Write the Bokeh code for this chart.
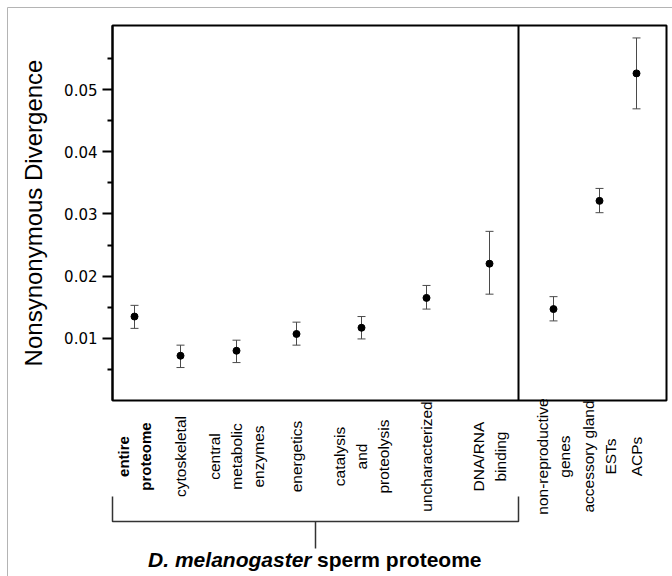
import numpy as np
from bokeh.plotting import figure
from bokeh.models import ColumnDataSource, Whisker, TeeHead, Span, FixedTicker, Range1d
from bokeh.core.properties import value
from bokeh.embed import file_html
from bokeh.resources import INLINE

# ---- data ----
categories = ["entire\nproteome", "cytoskeletal", "central\nmetabolic\nenzymes", "energetics",
              "catalysis\nand\nproteolysis", "uncharacterized", "DNA/RNA\nbinding",
              "non-reproductive\ngenes", "accessory gland\nESTs", "ACPs"]
xpos = [2.2, 6.8, 12.4, 18.4, 24.9, 31.4, 37.7, 44.1, 48.7, 52.4]
divergence = [0.0135, 0.0072, 0.0080, 0.0107, 0.0117, 0.0165, 0.0220, 0.0147, 0.0321, 0.0526]
upper = [0.0153, 0.0089, 0.0097, 0.0126, 0.0135, 0.0185, 0.0272, 0.0167, 0.0341, 0.0583]
lower = [0.0116, 0.0053, 0.0061, 0.0089, 0.0099, 0.0147, 0.0171, 0.0128, 0.0302, 0.0469]
y_ticks = [0.01, 0.02, 0.03, 0.04, 0.05]
y_minor = [0.005, 0.015, 0.025, 0.035, 0.045, 0.055]
y_label = "Nonsynonymous Divergence"
group_title_italic = "D. melanogaster"
group_title_rest = "sperm proteome"
divider = 40.6       # x of the separating line

# ---- figure ----
x_end = 55.4
y_end = 0.0603
FW, FH = 672, 576
ML, MR, MT, MB = 112, 6, 25, 176
p = figure(width=FW, height=FH, x_range=Range1d(0, x_end), y_range=Range1d(0, y_end),
           output_backend="svg", toolbar_location=None,
           min_border_left=ML, min_border_right=MR, min_border_top=MT, min_border_bottom=MB)
p.background_fill_color = "white"
p.border_fill_color = "white"
p.outline_line_color = "black"
p.outline_line_width = 2
p.xgrid.visible = False
p.ygrid.visible = False
p.xaxis.visible = False

ya = p.yaxis[0]
ya.ticker = FixedTicker(ticks=y_ticks, minor_ticks=y_minor)
ya.axis_line_width = 2
ya.major_tick_line_width = 2
ya.minor_tick_line_width = 2
ya.major_tick_out = 10
ya.minor_tick_out = 5
ya.major_tick_in = 0
ya.minor_tick_in = 0
ya.major_label_text_font = "DejaVu Sans"
ya.major_label_text_font_size = "15px"
ya.major_label_text_color = "black"
ya.major_label_standoff = 5
ya.axis_label = y_label
ya.axis_label_text_font = "Liberation Sans"
ya.axis_label_text_font_size = "24px"
ya.axis_label_text_font_style = "normal"
ya.axis_label_text_color = "black"
ya.axis_label_standoff = 14

src = ColumnDataSource(dict(x=xpos, y=divergence, upper=upper, lower=lower))
wcol = "#4a4a4a"
w = Whisker(base="x", upper="upper", lower="lower", source=src, line_color=wcol, line_width=1,
            upper_head=TeeHead(size=8, line_color=wcol, line_width=1),
            lower_head=TeeHead(size=8, line_color=wcol, line_width=1))
p.add_layout(w)
p.scatter("x", "y", source=src, size=7, color="black")

p.add_layout(Span(location=divider, dimension="height", line_color="black", line_width=2))

frame_w = FW - ML - MR
frame_h = FH - MT - MB
px_x = frame_w / x_end
px_y = frame_h / y_end
def ypix(d):  # pixels below frame bottom -> data units
    return -d / px_y

# light gray picture border (left and top edges)
bx = -(ML - 7) / px_x
by = (frame_h + MT - 7) / px_y
p.line(x=[bx, bx, x_end + 20], y=[ypix(400), by, by], line_color="#b4b4b4", line_width=1,
       level="overlay")

lab_y = ypix(56)
p.text(x=xpos[:1], y=[lab_y], text=categories[:1], angle=np.pi / 2,
       text_align="center", text_baseline="middle", text_font=value("Liberation Sans"),
       text_font_size="15px", text_font_style="bold", text_line_height=1.27,
       text_color="black", level="overlay")
p.text(x=xpos[1:], y=[lab_y] * (len(xpos) - 1), text=categories[1:], angle=np.pi / 2,
       text_align="center", text_baseline="middle", text_font=value("Liberation Sans"),
       text_font_size="15.5px", text_line_height=1.27, text_color="black", level="overlay")

b_top = ypix(96)
b_mid = ypix(121)
b_bot = ypix(148)
x_left = 0.0
x_right = divider
x_center = (x_left + x_right) / 2
p.line(x=[x_left, x_left, x_right, x_right], y=[b_top, b_mid, b_mid, b_top],
       line_color="#333333", line_width=1.5, level="overlay")
p.line(x=[x_center, x_center], y=[b_mid, b_bot], line_color="#333333", line_width=1.5,
       level="overlay")

t_y = ypix(159)
split_x = x_center - 0.4
p.text(x=[split_x], y=[t_y], text=[group_title_italic], text_align="right",
       text_baseline="middle", text_font=value("Liberation Sans"), text_font_size="21px",
       text_font_style="bold italic", text_color="black", level="overlay")
p.text(x=[split_x + 0.55], y=[t_y], text=[group_title_rest], text_align="left",
       text_baseline="middle", text_font=value("Liberation Sans"), text_font_size="21px",
       text_font_style="bold", text_color="black", level="overlay")

open("out.html", "w").write(file_html(p, INLINE))
